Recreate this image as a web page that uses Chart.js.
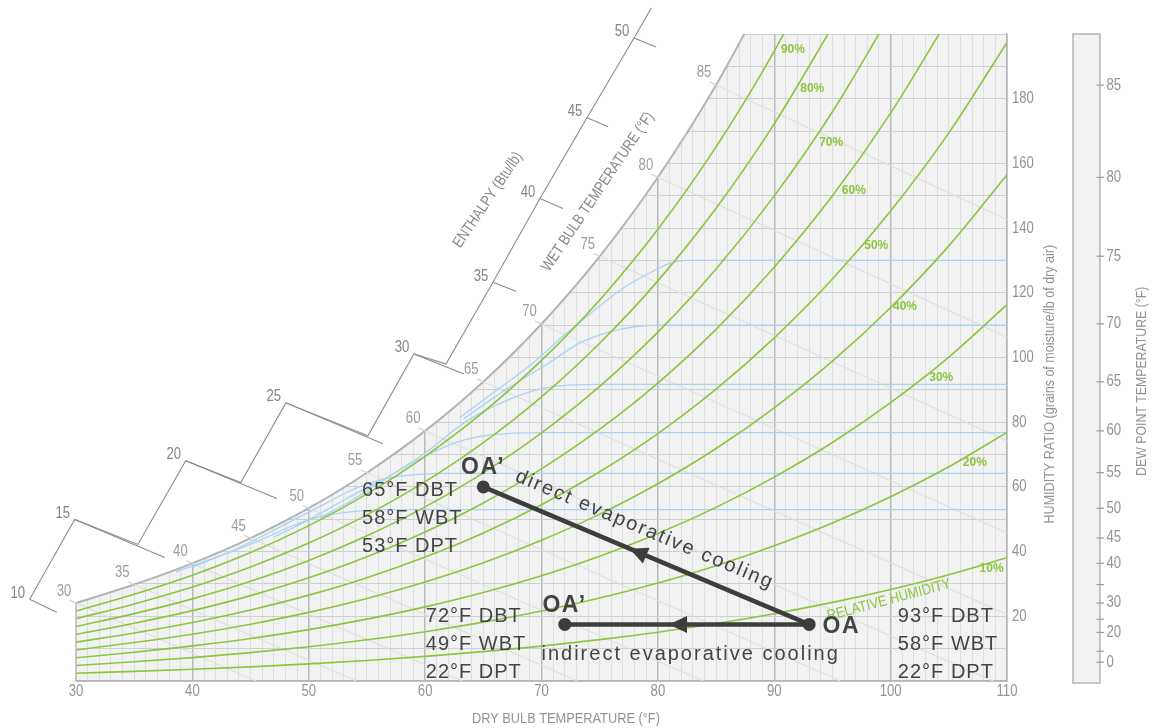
<!DOCTYPE html>
<html>
<head>
<meta charset="utf-8">
<title>Psychrometric chart – evaporative cooling</title>
<script src="https://cdn.jsdelivr.net/npm/chart.js@4.4.1/dist/chart.umd.min.js"></script>
<style>
  html, body { margin: 0; padding: 0; background: #ffffff; }
  #wrap { position: relative; width: 1152px; height: 728px; }
</style>
</head>
<body>
<div id="wrap"><canvas id="chart"></canvas></div>
<script>
// ---------------- data ----------------
// Dry-bulb temperatures (°F) at which the relative-humidity curves are tabulated
const dryBulbTemps = [30, 35, 40, 45, 50, 55, 60, 65, 70, 75, 80, 85, 90, 95, 100, 105, 110];

// Humidity ratio (grains of moisture / lb dry air) along each curve
const saturation = [24.07, 29.82, 36.37, 44.16, 53.42, 64.38, 77.31, 92.52, 110.37, 131.28, 155.72, 184.23, 217.44];
const rh90 = [21.65, 26.82, 32.70, 39.70, 48.02, 57.85, 69.46, 83.09, 99.09, 117.80, 139.65, 165.11, 194.73, 228.90];
const rh80 = [19.24, 23.83, 29.05, 35.26, 42.63, 51.35, 61.63, 73.70, 87.85, 104.40, 123.69, 146.15, 172.23, 202.29];
const rh70 = [16.82, 20.83, 25.39, 30.82, 37.26, 44.87, 53.83, 64.35, 76.68, 91.08, 107.84, 127.34, 149.96, 175.98, 206.18];
const rh60 = [14.41, 17.85, 21.75, 26.39, 31.90, 38.40, 46.06, 55.04, 65.56, 77.83, 92.11, 108.70, 127.91, 149.97, 175.54, 204.93];
const rh50 = [12.00, 14.86, 18.11, 21.97, 26.55, 31.95, 38.32, 45.77, 54.50, 64.67, 76.49, 90.21, 106.07, 124.26, 145.30, 169.44, 197.40];
const rh40 = [9.60, 11.88, 14.47, 17.56, 21.21, 25.53, 30.60, 36.54, 43.49, 51.58, 60.98, 71.87, 84.45, 98.85, 115.47, 134.51, 156.50];
const rh30 = [7.19, 8.90, 10.85, 13.16, 15.89, 19.12, 22.91, 27.35, 32.54, 38.57, 45.57, 53.68, 63.03, 73.72, 86.03, 100.11, 116.33];
const rh20 = [4.79, 5.93, 7.23, 8.76, 10.58, 12.73, 15.25, 18.20, 21.64, 25.64, 30.28, 35.64, 41.82, 48.87, 56.98, 66.23, 76.87];
const rh10 = [2.40, 2.96, 3.61, 4.38, 5.28, 6.35, 7.61, 9.08, 10.79, 12.78, 15.09, 17.75, 20.81, 24.30, 28.31, 32.87, 38.10];
const rhLevels = [10, 20, 30, 40, 50, 60, 70, 80, 90];
const rhCurves = [rh10, rh20, rh30, rh40, rh50, rh60, rh70, rh80, rh90];

// Wet-bulb lines: from the saturation curve down to the chart edge
const wetBulbTemps = [30, 35, 40, 45, 50, 55, 60, 65, 70, 75, 80, 85];
const wetBulbSatGrains = [24.07, 29.82, 36.37, 44.16, 53.42, 64.38, 77.31, 92.52, 110.37, 131.28, 155.72, 184.23];
const wetBulbEndTemps = [45.5, 54.1, 63.2, 73.1, 83.9, 95.7, 108.8, 110, 110, 110, 110, 110];
const wetBulbEndGrains = [0, 0, 0, 0, 0, 0, 0, 20.6, 45.8, 74.2, 106.3, 142.6];

// Constant-moisture guide curves (blue)
const guide53Temps = [38.6, 42, 45.8, 48.8, 51.5, 54.5, 57, 110];
const guide53Grains = [33.7, 38.2, 43.5, 48.3, 51.2, 52.6, 53, 53];
const guide64Temps = [40, 44, 48, 51.5, 54, 56.5, 59.5, 62, 110];
const guide64Grains = [35.2, 41.2, 48.5, 55, 59.5, 62.5, 63.9, 64.2, 64.2];
const guide77Temps = [47, 50, 53.3, 56.5, 59.8, 62.5, 64.7, 67.6, 70, 110];
const guide77Grains = [44.5, 49.8, 56.5, 62.5, 69.1, 73.5, 75.6, 76.6, 76.8, 76.8];
const guide92Temps = [51, 54, 57, 60, 63.6, 67.6, 70.5, 74.8, 110];
const guide92Grains = [50.5, 56.5, 63.5, 70.5, 80.4, 87.6, 90.7, 91.7, 91.7];
const guide110Temps = [63.3, 65.9, 68, 70.5, 73.3, 75.7, 78, 80.2, 110];
const guide110Grains = [81, 87.6, 92.5, 98, 104.5, 107.8, 109.5, 110, 110];
const guide130Temps = [63, 66, 69, 72, 74.8, 77, 79.6, 81, 82.5, 110];
const guide130Grains = [81.5, 89.5, 97.5, 107, 115.3, 121.4, 126.7, 129.1, 130, 130];

// Air states: dry bulb (°F) and humidity ratio (grains)
const stateNames = ['OA', 'OA\u2019', 'OA\u2019'];
const stateDryBulb = [93, 65, 72];
const stateGrains = [17.5, 60, 17.5];
const stateWetBulb = [58, 58, 49];
const stateDewPoint = [22, 53, 22];

// Enthalpy scale (Btu/lb)
const enthalpyTicks = [10, 15, 20, 25, 30, 35, 40, 45, 50];
// Dew point scale (°F) and the humidity ratio each one sits at
const dewPointTicks = [0, 10, 20, 25, 30, 35, 40, 45, 50, 55, 60, 65, 70, 75, 80, 85];
const dewPointGrains = [5.8, 9.2, 15.0, 19.1, 24.1, 29.8, 36.4, 44.2, 53.4, 64.4, 77.3, 92.5, 110.4, 131.3, 155.7, 184.2];
const dewPointLabelled = [0, 20, 30, 40, 45, 50, 55, 60, 65, 70, 75, 80, 85];

// ---------------- layout (data coordinates °F / grains) ----------------
const enthalpyAxisLine = [[26.02, 25.27], [29.89, 49.92], [35.31, 42.22], [39.43, 68.10], [44.16, 61.33],
  [48.03, 85.98], [55.08, 75.81], [59.04, 101.08], [61.79, 98.00], [65.83, 123.27], [69.87, 149.15],
  [73.91, 174.11], [77.95, 198.77], [79.43, 208.0]];
const enthalpyTickStart = [[26.02, 25.27], [29.89, 49.92], [39.43, 68.10], [48.03, 85.98], [59.04, 101.08],
  [65.83, 123.27], [69.87, 149.15], [73.91, 174.11], [77.95, 198.77]];
const enthalpyTickEnd = [[28.34, 21.26], [37.63, 38.21], [47.26, 56.39], [56.37, 73.34], [63.34, 94.92],
  [67.81, 120.49], [71.85, 146.07], [75.72, 171.34], [79.84, 196.0]];
const rhLabelAnchor = [[107.64, 34.7], [106.2, 67.4], [103.32, 93.7], [100.2, 115.6], [97.73, 134.7],
  [95.81, 151.5], [93.86, 166.5], [92.23, 183.1], [90.57, 195.2]];

// ---------------- styling ----------------
const NARROW = "'Liberation Sans Narrow','Arial Narrow','Liberation Sans',Arial,sans-serif";
const SANS = "'Liberation Sans',Arial,sans-serif";
const GREEN = '#8cc63f';
const INK = '#3d3d3d';
const TEXT = '#444444';
const AXIS_TEXT = '#939393';
const MAJOR_GRID = '#b9b9b9';

Chart.defaults.font.family = SANS;

// the condensed look of the scale text: use the narrow face when present, otherwise squeeze
let SQUEEZE = 0.82;
(function () {
  const c = document.createElement('canvas').getContext('2d');
  c.font = "16px 'Liberation Sans Narrow', monospace";
  const a = c.measureText('HUMIDITY RATIO').width;
  c.font = '16px monospace';
  const b = c.measureText('HUMIDITY RATIO').width;
  if (Math.abs(a - b) > 0.5) SQUEEZE = 1;
})();

function series(xs, ys) { return ys.map((y, i) => ({ x: xs[i], y })); }

function drawLabel(ctx, str, x, y, o) {
  ctx.save();
  ctx.font = o.font;
  ctx.fillStyle = o.color;
  ctx.textAlign = o.align || 'left';
  ctx.textBaseline = o.baseline || 'alphabetic';
  if (o.spacing) ctx.letterSpacing = o.spacing + 'px';
  ctx.translate(x, y);
  if (o.angle) ctx.rotate(o.angle);
  if (o.narrow) ctx.scale(SQUEEZE * (o.narrow === true ? 1 : o.narrow), 1);
  ctx.fillText(str, 0, 0);
  ctx.restore();
}

function arrowHead(ctx, from, to, len, half) {
  const mx = (from[0] + to[0]) / 2, my = (from[1] + to[1]) / 2;
  const dx = to[0] - from[0], dy = to[1] - from[1];
  const L = Math.hypot(dx, dy), ux = dx / L, uy = dy / L;
  ctx.beginPath();
  ctx.moveTo(mx + ux * len, my + uy * len);
  ctx.lineTo(mx - uy * half, my + ux * half);
  ctx.lineTo(mx + uy * half, my - ux * half);
  ctx.closePath();
  ctx.fill();
}

// ---------------- datasets ----------------
const plain = { pointRadius: 0, pointHoverRadius: 0, fill: false, tension: 0 };
const datasets = [];

// process paths (drawn on top)
datasets.push({ ...plain, label: 'direct evaporative cooling', order: 1, borderColor: INK, borderWidth: 4.5,
  data: [{ x: stateDryBulb[0], y: stateGrains[0] }, { x: stateDryBulb[1], y: stateGrains[1] }] });
datasets.push({ ...plain, label: 'indirect evaporative cooling', order: 1, borderColor: INK, borderWidth: 4.5,
  data: [{ x: stateDryBulb[0], y: stateGrains[0] }, { x: stateDryBulb[2], y: stateGrains[2] }] });
datasets.push({ label: 'states', order: 0, showLine: false, pointRadius: 6.5, pointHoverRadius: 6.5,
  pointBackgroundColor: INK, pointBorderWidth: 0, data: series(stateDryBulb, stateGrains) });

rhCurves.forEach((vals, i) => datasets.push({ ...plain, label: rhLevels[i] + '%', order: 2,
  borderColor: GREEN, borderWidth: 1.6, cubicInterpolationMode: 'monotone', data: series(dryBulbTemps, vals) }));

[[guide53Temps, guide53Grains], [guide64Temps, guide64Grains], [guide77Temps, guide77Grains],
 [guide92Temps, guide92Grains], [guide110Temps, guide110Grains], [guide130Temps, guide130Grains]]
  .forEach(([t, g]) => datasets.push({ ...plain, label: 'guide', order: 3, borderColor: '#a9d4f4',
    borderWidth: 1.3, cubicInterpolationMode: 'monotone', data: series(t, g) }));

wetBulbTemps.forEach((t, i) => datasets.push({ ...plain, label: 'wb' + t, order: 4, borderColor: '#dfdfdf',
  borderWidth: 1.2, data: [{ x: t, y: wetBulbSatGrains[i] }, { x: wetBulbEndTemps[i], y: wetBulbEndGrains[i] }] }));

// saturation curve; everything above it is blanked out
datasets.push({ ...plain, label: 'saturation', order: 5, borderColor: '#b4b4b4', borderWidth: 2,
  cubicInterpolationMode: 'monotone', fill: 'end', backgroundColor: '#ffffff',
  data: series(dryBulbTemps, saturation) });

// ---------------- drawing plugin ----------------
const psychroPlugin = {
  id: 'psychro',
  beforeDraw(chart) {
    const { ctx, chartArea: a } = chart;
    ctx.save();
    ctx.fillStyle = '#f2f2f2';
    ctx.fillRect(a.left, a.top, a.right - a.left, a.bottom - a.top);
    ctx.restore();
  },
  afterDatasetsDraw(chart) {
    const { ctx, chartArea: a } = chart;
    const xs = chart.scales.x, ys = chart.scales.y;
    const px = (t, w) => [xs.getPixelForValue(t), ys.getPixelForValue(w)];
    const scaleFont = '16px ' + NARROW;

    // left edge of the chart, only below the saturation curve
    ctx.save();
    ctx.strokeStyle = MAJOR_GRID;
    ctx.lineWidth = 1.5;
    ctx.beginPath();
    ctx.moveTo(a.left, a.bottom);
    ctx.lineTo(a.left, ys.getPixelForValue(saturation[0]));
    ctx.stroke();
    ctx.restore();

    // dry-bulb and humidity-ratio tick labels
    xs.ticks.filter(t => t.value % 10 === 0).forEach(t => {
      drawLabel(ctx, String(t.value), xs.getPixelForValue(t.value), a.bottom + 11,
        { font: scaleFont, color: AXIS_TEXT, align: 'center', baseline: 'middle', narrow: true });
    });
    ys.ticks.filter(t => t.value % 20 === 0 && t.value > 0 && t.value < 200).forEach(t => {
      drawLabel(ctx, String(t.value), a.right + 5, ys.getPixelForValue(t.value),
        { font: scaleFont, color: AXIS_TEXT, baseline: 'middle', narrow: true });
    });

    // wet-bulb labels with short leaders beyond the saturation curve
    ctx.save();
    ctx.strokeStyle = '#d4d4d4';
    ctx.lineWidth = 1.2;
    wetBulbTemps.forEach((t, i) => {
      const [x0, y0] = px(t, wetBulbSatGrains[i]);
      const [x1, y1] = px(wetBulbEndTemps[i], wetBulbEndGrains[i]);
      const L = Math.hypot(x1 - x0, y1 - y0), ux = (x1 - x0) / L, uy = (y1 - y0) / L;
      ctx.beginPath(); ctx.moveTo(x0, y0); ctx.lineTo(x0 - ux * 7, y0 - uy * 7); ctx.stroke();
      drawLabel(ctx, String(t), x0 - 12, y0 - 12, { font: scaleFont, color: '#9d9d9d', align: 'center', baseline: 'middle', narrow: true });
    });
    ctx.restore();

    // enthalpy scale
    ctx.save();
    ctx.strokeStyle = '#8c8c8c';
    ctx.lineWidth = 1.1;
    ctx.beginPath();
    enthalpyAxisLine.forEach((p, i) => { const [x, y] = px(p[0], p[1]); i ? ctx.lineTo(x, y) : ctx.moveTo(x, y); });
    ctx.stroke();
    enthalpyTicks.forEach((h, i) => {
      const [x0, y0] = px(enthalpyTickStart[i][0], enthalpyTickStart[i][1]);
      const [x1, y1] = px(enthalpyTickEnd[i][0], enthalpyTickEnd[i][1]);
      ctx.beginPath(); ctx.moveTo(x0, y0); ctx.lineTo(x1, y1); ctx.stroke();
      drawLabel(ctx, String(h), x0 - 12, y0 - 6, { font: scaleFont, color: '#858585', align: 'center', baseline: 'middle', narrow: true });
    });
    ctx.restore();

    // rotated scale titles
    const ang = -56 * Math.PI / 180;
    let [tx, ty] = px(65.4, 148.7);
    drawLabel(ctx, 'ENTHALPY (Btu/lb)', tx, ty, { font: '15.5px ' + NARROW, color: '#8a8a8a', align: 'center', baseline: 'middle', angle: ang, narrow: true });
    [tx, ty] = px(74.85, 151.2);
    drawLabel(ctx, 'WET BULB TEMPERATURE (\u00b0F)', tx, ty, { font: '15.5px ' + NARROW, color: '#8a8a8a', align: 'center', baseline: 'middle', angle: ang, narrow: true });

    // axis titles
    drawLabel(ctx, 'DRY BULB TEMPERATURE (\u00b0F)', xs.getPixelForValue(72.1), a.bottom + 41.5,
      { font: '15px ' + NARROW, color: AXIS_TEXT, align: 'center', narrow: 1.04 });
    drawLabel(ctx, 'HUMIDITY RATIO (grains of moisture/lb of dry air)', a.right + 46.5, ys.getPixelForValue(48.7),
      { font: '15px ' + NARROW, color: AXIS_TEXT, angle: -Math.PI / 2, narrow: 1.02 });

    // dew point panel
    const boxL = a.right + 66, boxR = a.right + 93, boxT = a.top, boxB = a.bottom + 2;
    ctx.save();
    ctx.fillStyle = '#f2f2f2';
    ctx.fillRect(boxL, boxT, boxR - boxL, boxB - boxT);
    ctx.strokeStyle = '#b4b4b4';
    ctx.lineWidth = 1.5;
    ctx.strokeRect(boxL, boxT, boxR - boxL, boxB - boxT);
    ctx.strokeStyle = '#9a9a9a';
    ctx.lineWidth = 1.2;
    dewPointTicks.forEach((d, i) => {
      const y = ys.getPixelForValue(dewPointGrains[i]);
      ctx.beginPath(); ctx.moveTo(boxR - 3.5, y); ctx.lineTo(boxR + 4, y); ctx.stroke();
      if (dewPointLabelled.includes(d)) {
        drawLabel(ctx, String(d), boxR + 6.5, y, { font: scaleFont, color: AXIS_TEXT, baseline: 'middle', narrow: true });
      }
    });
    ctx.restore();
    drawLabel(ctx, 'DEW POINT TEMPERATURE (\u00b0F)', a.right + 139, ys.getPixelForValue(63.4),
      { font: '15px ' + NARROW, color: AXIS_TEXT, angle: -Math.PI / 2, narrow: true });

    // relative humidity labels
    rhLevels.forEach((r, i) => {
      const [x, y] = px(rhLabelAnchor[i][0], rhLabelAnchor[i][1]);
      drawLabel(ctx, r + '%', x, y, { font: 'bold 12px ' + SANS, color: GREEN, baseline: 'middle' });
    });
    [tx, ty] = px(99.86, 25.0);
    drawLabel(ctx, 'RELATIVE HUMIDITY', tx, ty, { font: '15px ' + NARROW, color: GREEN, align: 'center', baseline: 'middle', angle: -15 * Math.PI / 180, narrow: 1.05 });

    // process arrows
    const pts = stateDryBulb.map((t, i) => px(t, stateGrains[i]));
    ctx.save();
    ctx.fillStyle = INK;
    arrowHead(ctx, pts[0], pts[1], 18, 8.5);
    arrowHead(ctx, pts[0], pts[2], 18, 8.5);
    ctx.restore();

    // state labels
    const big = { font: 'bold 23px ' + SANS, color: TEXT, spacing: 1.5 };
    const body = { font: '20px ' + SANS, color: TEXT, spacing: 1 };
    const lines = i => [stateDryBulb[i] + '\u00b0F DBT', stateWetBulb[i] + '\u00b0F WBT', stateDewPoint[i] + '\u00b0F DPT'];
    // outdoor air
    drawLabel(ctx, stateNames[0], pts[0][0] + 13.4, pts[0][1] + 8.7, big);
    lines(0).forEach((s, k) => drawLabel(ctx, s, pts[0][0] + 88.7, pts[0][1] - 2.3 + k * 27.8, body));
    // after direct cooling
    drawLabel(ctx, stateNames[1], pts[1][0] - 22.3, pts[1][1] - 12.7, big);
    lines(1).forEach((s, k) => drawLabel(ctx, s, pts[1][0] - 121.3, pts[1][1] + 9 + k * 27.8, body));
    // after indirect cooling
    drawLabel(ctx, stateNames[2], pts[2][0] - 22.3, pts[2][1] - 12.3, big);
    lines(2).forEach((s, k) => drawLabel(ctx, s, pts[2][0] - 139, pts[2][1] - 2.3 + k * 27.8, body));

    // process captions
    drawLabel(ctx, 'indirect evaporative cooling', pts[2][0] - 23.3, pts[2][1] + 36, { font: '20px ' + SANS, color: TEXT, spacing: 2 });
    const dx = pts[0][0] - pts[1][0], dy = pts[0][1] - pts[1][1];
    const L = Math.hypot(dx, dy), ux = dx / L, uy = dy / L;
    const sx = pts[1][0] + ux * 26 + uy * 17.7, sy = pts[1][1] + uy * 26 - ux * 17.7;
    drawLabel(ctx, 'direct evaporative cooling', sx, sy, { font: '20px ' + SANS, color: TEXT, spacing: 2, angle: Math.atan2(dy, dx) });
  }
};

// ---------------- chart ----------------
new Chart(document.getElementById('chart'), {
  type: 'line',
  data: { datasets },
  plugins: [psychroPlugin],
  options: {
    responsive: true,
    maintainAspectRatio: false,
    animation: false,
    events: [],
    devicePixelRatio: 1,
    layout: { padding: { left: 76, top: 34, right: 0, bottom: 0 } },
    plugins: { legend: { display: false }, tooltip: { enabled: false }, title: { display: false } },
    scales: {
      x: {
        type: 'linear', min: 30, max: 110, position: 'bottom',
        afterFit(s) { s.height = 47; },
        ticks: { display: false, stepSize: 1, maxTicksLimit: 1000, autoSkip: false },
        grid: {
          drawTicks: false,
          color: c => {
            if (!c.tick) return '#dedede';
            if (c.tick.value === 30) return 'rgba(0,0,0,0)';
            return c.tick.value % 10 === 0 ? MAJOR_GRID : '#dedede';
          },
          lineWidth: c => (c.tick && c.tick.value % 10 === 0 ? 1.5 : 1)
        },
        border: { color: '#b4b4b4', width: 1.5 }
      },
      y: {
        type: 'linear', min: 0, max: 200, position: 'right',
        afterFit(s) { s.width = 145; },
        ticks: { display: false, stepSize: 10, maxTicksLimit: 1000, autoSkip: false },
        grid: { drawTicks: false, color: '#cfcfcf', lineWidth: 1 },
        border: { color: '#b4b4b4', width: 1.5 }
      }
    }
  }
});
</script>
</body>
</html>
